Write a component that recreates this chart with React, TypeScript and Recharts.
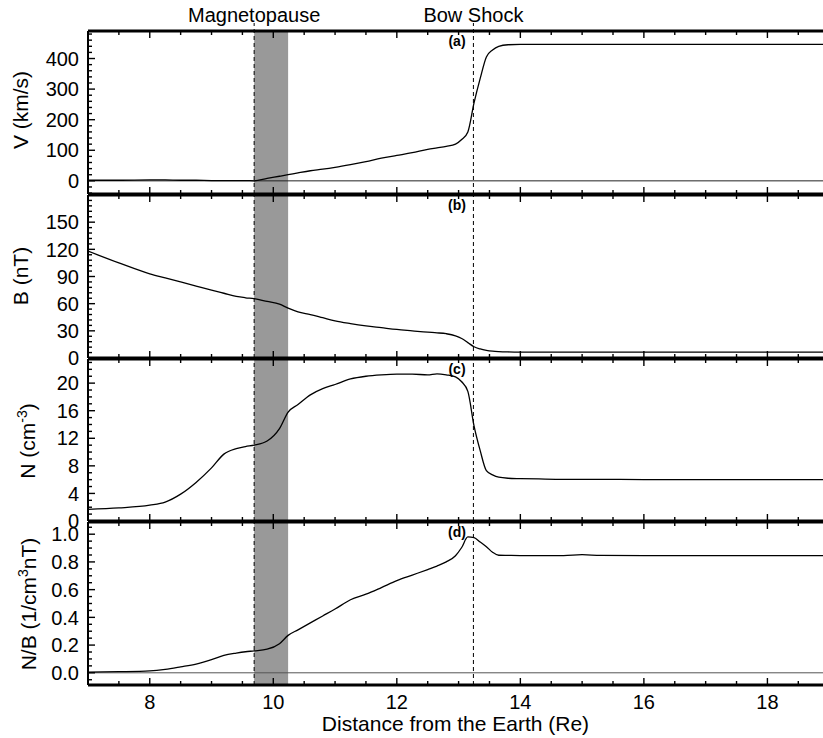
import React from "react";
import { LineChart, Line, XAxis, YAxis, ReferenceLine, ReferenceArea } from "recharts";

// distance from the Earth (Re), shared by all four panels
const distance = [
  7.0, 7.5, 8.0, 8.25, 8.5, 8.75, 9.0, 9.2, 9.4, 9.55, 9.69, 9.9, 10.1, 10.24, 10.4,
  10.6, 10.8, 11.0, 11.25, 11.5, 11.75, 12.0, 12.25, 12.5, 12.65, 12.8, 12.95, 13.05,
  13.15, 13.25, 13.35, 13.45, 13.55, 13.65, 13.8, 14.0, 14.3, 14.7, 15.0, 15.3, 16.0,
  17.0, 18.0, 18.9,
];

// (a) V (km/s)
const velocity = [
  2, 2, 3, 3, 2, 2, 1, 1, 1, 1, 0, 8, 15, 20, 26, 33, 38, 44, 53, 63, 74, 83, 92, 103,
  108, 113, 120, 135, 160, 255, 335, 405, 428, 440, 445, 446, 446, 446, 446, 446, 446,
  446, 446, 446,
];

// (b) B (nT)
const magField = [
  118, 105, 93, 88.5, 84, 79.5, 75, 71.5, 68, 66.5, 65.5, 62.5, 59.5, 55, 51, 48, 44.5,
  41, 38, 35.5, 33.5, 31.5, 30, 28.5, 27.8, 26.8, 24.5, 21.5, 17, 12.4, 10, 8.5, 7.6,
  7.1, 6.7, 6.5, 6.5, 6.5, 6.5, 6.5, 6.5, 6.5, 6.5, 6.5,
];

// (c) N (cm^-3)
const density = [
  1.7, 1.9, 2.3, 2.75, 3.9, 5.6, 7.7, 9.7, 10.5, 10.8, 11.0, 11.6, 13.4, 15.8, 16.9,
  18.3, 19.2, 19.8, 20.6, 21.0, 21.2, 21.3, 21.3, 21.2, 21.35, 21.2, 20.9, 20.2, 18.8,
  13.8, 10.2, 7.3, 6.7, 6.35, 6.2, 6.15, 6.1, 6.05, 6.05, 6.05, 6.0, 6.0, 6.0, 6.0,
];

// (d) N/B (1/cm^3 nT)
const densityPerField = [
  0.005, 0.008, 0.014, 0.025, 0.043, 0.063, 0.095, 0.125, 0.142, 0.152, 0.158, 0.17,
  0.21, 0.27, 0.31, 0.36, 0.41, 0.46, 0.527, 0.567, 0.615, 0.665, 0.705, 0.745, 0.77,
  0.8, 0.845, 0.904, 0.98, 0.975, 0.943, 0.91, 0.87, 0.848, 0.847, 0.846, 0.846, 0.846,
  0.852, 0.847, 0.846, 0.846, 0.846, 0.846,
];

const xTickLabels = [8, 10, 12, 14, 16, 18];
const vTickLabels = [0, 100, 200, 300, 400];
const bTickLabels = [0, 30, 60, 90, 120, 150];
const nTickLabels = [0, 4, 8, 12, 16, 20];
const nbTickLabels = [0, 0.2, 0.4, 0.6, 0.8, 1.0];

const magnetopause = 9.69;
const magnetopauseEnd = 10.24;
const bowShock = 13.24;

const FONT = "'Liberation Sans', Arial, Helvetica, sans-serif";
const W = 823;
const Y_AXIS_W = 88;
const X_DOMAIN = [7, 18.9];

const rows = distance.map((d, i) => ({
  d,
  v: velocity[i],
  b: magField[i],
  n: density[i],
  nb: densityPerField[i],
}));

const stepTicks = (lo: number, hi: number, step: number) => {
  const out: number[] = [];
  for (let t = Math.ceil(lo / step - 1e-9) * step; t <= hi + 1e-9; t += step) {
    out.push(+t.toFixed(4));
  }
  return out;
};

const isIn = (list: number[], v: number) => list.some((m) => Math.abs(m - v) < 1e-6);

const xTicks = stepTicks(7.5, 18.5, 0.5);

// labels only; the tick marks themselves are drawn as short reference segments
const makeXTick = (withLabels: boolean) => (props: any) => {
  const v = props.payload.value;
  if (!withLabels || !isIn(xTickLabels, v)) return <g />;
  return (
    <text x={Number(props.x)} y={Number(props.y) + 24} textAnchor="middle" fontSize={20} fontFamily={FONT} fill="#000">
      {v}
    </text>
  );
};

const makeYTick = (majors: number[], digits: number) => (props: any) => {
  const v = props.payload.value;
  if (!isIn(majors, v)) return <g />;
  return (
    <text x={Number(props.x) - 9} y={Number(props.y)} dy="0.36em" textAnchor="end" fontSize={20} fontFamily={FONT} fill="#000">
      {v.toFixed(digits)}
    </text>
  );
};

const makeTitle = (tx: number, ty: number, body: React.ReactNode) => (boxTop: number) => () => (
  <text
    x={tx}
    y={ty - boxTop}
    transform={`rotate(-90 ${tx} ${ty - boxTop})`}
    textAnchor="middle"
    fontSize={21}
    fontFamily={FONT}
    fill="#000"
  >
    {body}
  </text>
);

// top/bottom: plot edges on the page; boxTop/boxBottom: the chart's own box
const panels = [
  {
    key: "v", boxTop: 0, boxBottom: 195, top: 31, bottom: 194, domain: [-43, 490],
    majors: vTickLabels, minor: 20, digits: 0, zero: "#222", letter: "(a)",
    title: makeTitle(28, 110, "V (km/s)"),
  },
  {
    key: "b", boxTop: 195, boxBottom: 359, top: 195, bottom: 358, domain: [0, 180],
    majors: bTickLabels, minor: 6, digits: 0, zero: null, letter: "(b)",
    title: makeTitle(28, 276, "B (nT)"),
  },
  {
    key: "n", boxTop: 359, boxBottom: 522, top: 359, bottom: 521, domain: [0, 23.5],
    majors: nTickLabels, minor: 1, digits: 0, zero: null, letter: "(c)",
    title: makeTitle(35, 441, (
      <>
        N (cm<tspan dy={-8} fontSize={14}>-3</tspan>
        <tspan dy={8}>)</tspan>
      </>
    )),
  },
  {
    key: "nb", boxTop: 522, boxBottom: 738, top: 522, bottom: 685, domain: [-0.088, 1.088],
    majors: nbTickLabels, minor: 0.05, digits: 1, zero: "#555", letter: "(d)",
    title: makeTitle(36, 604, (
      <>
        N/B (1/cm<tspan dy={-8} fontSize={14}>3</tspan>
        <tspan dy={8}>nT)</tspan>
      </>
    )),
  },
];

const Panel = ({ p, first, last }: { p: any; first: boolean; last: boolean }) => {
  const boxH = p.boxBottom - p.boxTop;
  const plotH = p.bottom - p.top;
  const [lo, hi] = p.domain;
  const yTicks = stepTicks(lo, hi, p.minor);
  const perPxY = (hi - lo) / plotH;
  const perPxX = (X_DOMAIN[1] - X_DOMAIN[0]) / (W - Y_AXIS_W);
  const extTop = hi + (p.top - 23) * perPxY;
  const header = (text: string) => (props: any) => (
    <text
      x={props.viewBox?.x ?? 0}
      y={22}
      textAnchor="middle"
      fontSize={20}
      fontFamily={FONT}
      fill="#000"
    >
      {text}
    </text>
  );
  const tickStyle = { stroke: "#000", strokeWidth: 1.4, ifOverflow: "visible" as const };
  return (
    <div style={{ position: "absolute", left: 0, top: p.boxTop, width: W, height: boxH }}>
      <LineChart
        width={W}
        height={boxH}
        data={rows}
        margin={{ top: p.top - p.boxTop, right: 0, bottom: p.boxBottom - p.bottom - 1, left: 0 }}
      >
        <XAxis
          type="number"
          dataKey="d"
          domain={X_DOMAIN}
          allowDataOverflow
          ticks={xTicks}
          interval={0}
          height={1}
          tickSize={0}
          tickMargin={0}
          axisLine={false}
          tickLine={false}
          tick={makeXTick(last)}
          label={
            last
              ? () => (
                  <text x={455.5} y={731 - p.boxTop} textAnchor="middle" fontSize={21} fontFamily={FONT} fill="#000">
                    Distance from the Earth (Re)
                  </text>
                )
              : undefined
          }
        />
        <YAxis
          type="number"
          domain={p.domain}
          allowDataOverflow
          ticks={yTicks}
          interval={0}
          width={Y_AXIS_W}
          tickSize={0}
          tickMargin={0}
          tickLine={false}
          axisLine={{ stroke: "#000", strokeWidth: 2 }}
          tick={makeYTick(p.majors, p.digits)}
          label={p.title(p.boxTop)}
        />
        <ReferenceArea
          x1={magnetopause}
          x2={magnetopauseEnd}
          fill="#999999"
          fillOpacity={1}
          stroke="none"
          ifOverflow="visible"
        />
        {p.zero && <ReferenceLine y={0} stroke={p.zero} strokeWidth={1} />}
        {first ? (
          <ReferenceLine
            segment={[{ x: magnetopause, y: lo }, { x: magnetopause, y: extTop }]}
            stroke="#000"
            strokeDasharray="4 3"
            ifOverflow="visible"
            label={header("Magnetopause")}
          />
        ) : (
          <ReferenceLine x={magnetopause} stroke="#000" strokeDasharray="4 3" />
        )}
        {first ? (
          <ReferenceLine
            segment={[{ x: bowShock, y: lo }, { x: bowShock, y: extTop }]}
            stroke="#000"
            strokeDasharray="4 3"
            ifOverflow="visible"
            label={header("Bow Shock")}
          />
        ) : (
          <ReferenceLine x={bowShock} stroke="#000" strokeDasharray="4 3" />
        )}
        {/* inward ticks on the bottom and top edges */}
        {xTicks.map((t) => {
          const len = (isIn(xTickLabels, t) ? 7 : 4) * perPxY;
          return (
            <React.Fragment key={`x${t}`}>
              <ReferenceLine segment={[{ x: t, y: lo }, { x: t, y: lo + len }]} {...tickStyle} />
              <ReferenceLine segment={[{ x: t, y: hi }, { x: t, y: hi - len }]} {...tickStyle} />
            </React.Fragment>
          );
        })}
        {/* inward ticks on the left edge */}
        {yTicks.map((t) => {
          const len = (isIn(p.majors, t) ? 7 : 4) * perPxX;
          return (
            <ReferenceLine
              key={`y${t}`}
              segment={[{ x: X_DOMAIN[0], y: t }, { x: X_DOMAIN[0] + len, y: t }]}
              {...tickStyle}
            />
          );
        })}
        <ReferenceLine y={lo} stroke="#000" strokeWidth={3} ifOverflow="visible" />
        <ReferenceLine
          y={hi}
          stroke="#000"
          strokeWidth={3}
          ifOverflow="visible"
          label={() => (
            <text
              x={457}
              y={p.top - p.boxTop + 15}
              textAnchor="middle"
              fontSize={14}
              fontWeight="bold"
              fontFamily={FONT}
              fill="#000"
            >
              {p.letter}
            </text>
          )}
        />
        <Line
          dataKey={p.key}
          type="monotone"
          stroke="#000"
          strokeWidth={1.3}
          dot={false}
          isAnimationActive={false}
        />
      </LineChart>
    </div>
  );
};

export default function App() {
  return (
    <div
      style={{
        position: "absolute",
        left: 0,
        top: 0,
        width: W,
        height: 738,
        background: "#fff",
        overflow: "hidden",
      }}
    >
      <style>{".recharts-surface{overflow:visible}"}</style>
      {panels.map((p, i) => (
        <Panel key={p.key} p={p} first={i === 0} last={i === panels.length - 1} />
      ))}
    </div>
  );
}
